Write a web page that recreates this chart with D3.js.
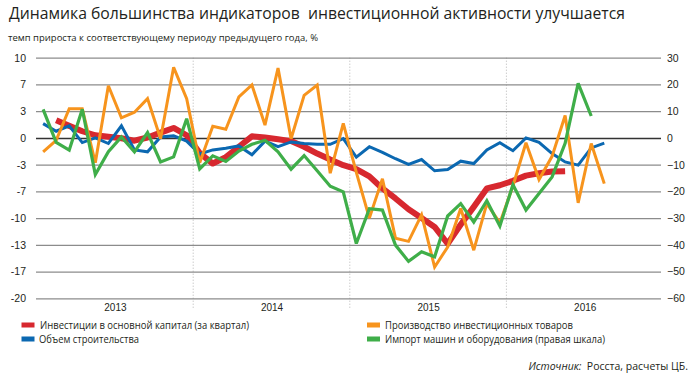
<!DOCTYPE html>
<html>
<head>
<meta charset="utf-8">
<script src="https://cdn.jsdelivr.net/npm/d3@7"></script>
<style>
  body { margin: 0; background: #fff; }
  svg { display: block; font-family: "Open Sans", "Noto Sans", sans-serif; }
  text { white-space: pre; }
</style>
</head>
<body>
<div class="chart"></div>
<script>
// ---- data (monthly, Jan 2013 .. ) ----
const years = ["2013", "2014", "2015", "2016"];
const rightTicks = [30, 20, 10, 0, -10, -20, -30, -40, -50, -60];
const leftTickLabels = ["10", "7", "3", "0", "-3", "-7", "-10", "-13", "-17", "-20"];

// инвестиции в основной капитал (левая шкала)
const investment = [
  null, 2.2, 1.5, 0.83, 0.33, 0.15, -0.05, -0.35, 0.05, 0.66, 1.24, 0.33,
  -1.9, -3.2, -2.4, -1.1, 0.2, 0.04, -0.17, -0.4, -1.1, -1.95, -2.7, -3.4,
  -3.9, -4.8, -6.3, -7.55, -8.9, -10.0, -11.1, -13.2, -10.8, -8.6, -6.3, -5.9,
  -5.35, -4.7, -4.4, -4.2, -4.15
];
// объем строительства (левая шкала)
const construction = [
  1.78, 0.83, 1.5, -0.58, 0, -0.7, 1.5, -1.5, -1.74, 0.12, 0.25, -0.4,
  -2.0, -1.5, -1.3, -1.0, -2.1, -0.4, -1.1, -0.5, -0.7, -0.8, -0.8, -0.1,
  -2.4, -1.1, -1.8, -2.6, -3.3, -2.7, -4.1, -3.95, -2.9, -3.2, -1.5, -0.6,
  -1.6, 0.0, -0.55, -1.95, -3.0, -3.4, -1.25, -0.65
];
// производство инвестиционных товаров (левая шкала)
const production = [
  -1.74, -0.3, 3.65, 3.65, -3.1, 6.5, 2.5, 3.2, 4.9, -0.1, 8.8, 4.9,
  -3.1, 1.45, 1.08, 5.1, 6.6, 1.6, 8.7, -0.1, 5.3, 6.6, -4.4, 1.8,
  -4.3, -10.0, -5.1, -12.5, -12.9, -9.6, -16.1, -13.6, -8.8, -14.0, -8.2, -10.6,
  -6.0, -0.6, -5.2, -2.3, 2.8, -8.1, -0.7, -5.7
];
// импорт машин и оборудования (правая шкала)
const imports = [
  10.7, -1.7, -4.6, 10.7, -13.7, -5.2, 0.4, -5.2, 2.0, -9.0, -7.1, 7.2,
  -11.6, -6.7, -8.8, -4.9, -2.4, -0.9, -5.2, -11.7, -6.6, -12.3, -18.1, -20.2,
  -39.5, -26.5, -27.0, -40.1, -46.2, -42.6, -44.5, -29.2, -24.6, -31.5, -23.5, -33.0,
  -17.5, -27.0, -20.8, -14.6, -2.0, 20.4, 8.2
];

const seriesNames = [
  "Инвестиции в основной капитал (за квартал)",
  "Объем строительства",
  "Производство инвестиционных товаров",
  "Импорт машин и оборудования (правая шкала)"
];

const width = 700, height = 374;
const plot = { left: 36.6, right: 663, top: 57.7, bottom: 298.3 };

const svg = d3.select(".chart").append("svg")
  .attr("width", width)
  .attr("height", height);

const x = d3.scaleLinear().domain([0, 48]).range([plot.left, plot.right]);
const yL = d3.scaleLinear().domain([-20, 10]).range([plot.bottom, plot.top]);
const yR = d3.scaleLinear().domain([-60, 30]).range([plot.bottom, plot.top]);

// title
svg.append("text")
  .attr("x", 9).attr("y", 19)
  .attr("textLength", 616).attr("lengthAdjust", "spacingAndGlyphs")
  .style("font-size", "17px").style("fill", "#231f20")
  .text("Динамика большинства индикаторов  инвестиционной активности улучшается");

svg.append("text")
  .attr("x", 8).attr("y", 41)
  .attr("textLength", 310).attr("lengthAdjust", "spacingAndGlyphs")
  .style("font-size", "9.5px").style("fill", "#231f20")
  .text("темп прироста к соответствующему периоду предыдущего года, %");

// year separators
svg.append("g").selectAll("line")
  .data([12, 24, 36])
  .enter().append("line")
  .attr("x1", d => x(d)).attr("x2", d => x(d))
  .attr("y1", plot.top).attr("y2", 308)
  .style("stroke", "#b5b5b5").style("stroke-width", 1)
  .style("stroke-dasharray", "1,2");

// grid + left labels
const gridAxis = svg.append("g")
  .attr("class", "yaxis-left")
  .attr("transform", `translate(36, 0)`)
  .call(d3.axisLeft(yR).tickValues(rightTicks)
    .tickFormat((d, i) => leftTickLabels[i])
    .tickSize(-(661 - 36)).tickPadding(10));
gridAxis.select(".domain").remove();
gridAxis.selectAll("line")
  .style("stroke", d => d === 0 ? "#333" : "#8c8c8c")
  .style("stroke-width", d => d === 0 ? 1.5 : 1.2);
gridAxis.selectAll("text")
  .style("font-size", "10.5px").style("fill", "#231f20");

const rightAxis = svg.append("g")
  .attr("class", "yaxis-right")
  .attr("transform", `translate(661, 0)`)
  .call(d3.axisRight(yR).tickValues(rightTicks).tickSize(0).tickPadding(6));
rightAxis.select(".domain").remove();
rightAxis.selectAll("text")
  .style("font-size", "10.5px").style("fill", "#231f20");

// x axis (year labels)
const xAxis = svg.append("g")
  .attr("class", "xaxis")
  .attr("transform", `translate(0, ${plot.bottom})`)
  .call(d3.axisBottom(x).tickValues([6, 18, 30, 42])
    .tickFormat((d, i) => years[i]).tickSize(0).tickPadding(6));
xAxis.select(".domain").remove();
xAxis.selectAll("text")
  .style("font-size", "10px").style("fill", "#231f20");

// lines
const lineL = d3.line()
  .defined(d => d != null)
  .x((d, i) => x(i + 0.5))
  .y(d => yL(d));
const lineR = d3.line()
  .defined(d => d != null)
  .x((d, i) => x(i + 0.5))
  .y(d => yR(d));

const lines = [
  { data: investment, gen: lineL, color: "#d7282f", w: 6 },
  { data: construction, gen: lineL, color: "#0b68b1", w: 3 },
  { data: production, gen: lineL, color: "#f7941d", w: 3 },
  { data: imports, gen: lineR, color: "#3fae49", w: 3.2 }
];

svg.append("g").attr("class", "lines")
  .selectAll("path")
  .data(lines)
  .enter().append("path")
  .attr("d", d => d.gen(d.data))
  .style("fill", "none")
  .style("stroke", d => d.color)
  .style("stroke-width", d => d.w)
  .style("stroke-linejoin", d => d.w > 4 ? "round" : "miter")
  .style("stroke-miterlimit", 3);

// legend
const legendPos = [
  { sx: 21.5, tx: 40, y: 325, len: 209 },
  { sx: 21.5, tx: 39, y: 339, len: 100 },
  { sx: 367, tx: 385, y: 325, len: 188 },
  { sx: 367, tx: 385, y: 339, len: 220 }
];
const legend = svg.append("g").attr("class", "legend")
  .selectAll("g")
  .data(lines)
  .enter().append("g");
legend.append("rect")
  .attr("x", (d, i) => legendPos[i].sx)
  .attr("y", (d, i) => legendPos[i].y - 2.5)
  .attr("width", 13).attr("height", 5)
  .style("fill", d => d.color);
legend.append("text")
  .attr("x", (d, i) => legendPos[i].tx)
  .attr("y", (d, i) => legendPos[i].y + 4)
  .attr("textLength", (d, i) => legendPos[i].len)
  .attr("lengthAdjust", "spacingAndGlyphs")
  .style("font-size", "11px").style("fill", "#231f20")
  .text((d, i) => seriesNames[i]);

// source
const src = svg.append("text")
  .attr("x", 688).attr("y", 370)
  .attr("text-anchor", "end")
  .style("font-size", "10.5px").style("fill", "#231f20");
src.append("tspan").style("font-style", "italic").text("Источник:");
src.append("tspan").text("  Росста, расчеты ЦБ.");
</script>
</body>
</html>
